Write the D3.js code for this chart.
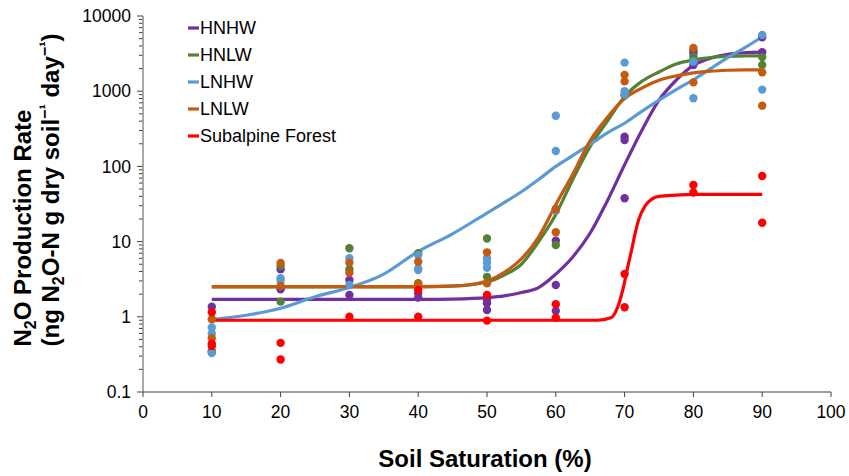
<!DOCTYPE html>
<html>
<head>
<meta charset="utf-8">
<script src="https://cdn.jsdelivr.net/npm/d3@7"></script>
<style>
  body { margin: 0; background: #fff; }
  svg { display: block; }
  text { font-family: "Liberation Sans", Arial, sans-serif; fill: #000; }
</style>
</head>
<body>
<svg id="chart" width="849" height="476"></svg>
<script>
// Series and legend
const seriesNames = ["HNHW", "HNLW", "LNHW", "LNLW", "Subalpine Forest"];
const seriesColors = ["#7030A0", "#548235", "#5B9BD5", "#C55A11", "#FF0000"];

// Axis ticks
const xTicks = [0, 10, 20, 30, 40, 50, 60, 70, 80, 90, 100];
const yTicks = [0.1, 1, 10, 100, 1000, 10000];
const yTickLabels = ["0.1", "1", "10", "100", "1000", "10000"];

// Fitted response curves (soil saturation %, N2O rate)
const fitX = [10, 15, 20, 25, 30, 35, 40, 45, 50, 52.5, 55, 57.5, 60, 62.5, 65, 67.5, 70, 72.5, 75, 77.5, 80, 82.5, 85, 87.5, 90];
const fitHNHW = [1.7, 1.7, 1.7, 1.7, 1.7, 1.7, 1.7, 1.72, 1.8, 1.9, 2.1, 2.45, 3.7, 6.3, 13, 35, 105, 300, 760, 1400, 2200, 2750, 3100, 3250, 3300];
const fitHNLW = [2.5, 2.5, 2.5, 2.5, 2.5, 2.5, 2.5, 2.55, 2.9, 3.6, 5.0, 10, 23, 68, 185, 400, 850, 1350, 1800, 2300, 2600, 2800, 2900, 2950, 2950];
const fitLNHW = [0.92, 1.05, 1.3, 1.85, 2.45, 3.7, 7.4, 12.7, 24, 33, 46, 67, 100, 140, 197, 280, 375, 540, 760, 1050, 1420, 2000, 2800, 3800, 5300];
const fitLNLW = [2.52, 2.52, 2.52, 2.52, 2.52, 2.52, 2.52, 2.57, 3.0, 3.9, 5.9, 11.5, 31, 80, 220, 450, 800, 1100, 1400, 1600, 1750, 1850, 1900, 1920, 1920];
const forestFitX = [10, 20, 30, 40, 50, 60, 66, 68, 69, 70, 70.5, 71, 71.5, 72, 73, 74, 75, 77.5, 80, 85, 90];
const forestFit = [0.9, 0.9, 0.9, 0.9, 0.9, 0.9, 0.9, 0.97, 1.35, 2.9, 4.8, 7.6, 12.5, 19, 30, 37, 40, 41.5, 42.5, 42.5, 42.5];

// Measured rates: [soil saturation %, N2O rate]
const obsHNHW = [[10, 1.36], [10, 0.34], [20, 4.3], [20, 2.32], [30, 3.09], [30, 1.95], [40, 2.05], [40, 1.8],
  [50, 1.7], [50, 1.51], [50, 1.23], [60, 10.3], [60, 2.65], [60, 1.2], [70, 248], [70, 224], [70, 37.7],
  [80, 3460], [80, 3200], [80, 2230], [90, 5210], [90, 3290]];
const obsHNLW = [[10, 0.35], [20, 4.74], [20, 1.59], [30, 8.15], [30, 4.28], [40, 7.0], [40, 2.79],
  [50, 11.0], [50, 3.4], [60, 27], [60, 9.0], [70, 880], [80, 2870], [80, 2600], [90, 2840], [90, 2230]];
const obsLNHW = [[10, 0.72], [10, 0.6], [10, 0.33], [20, 3.25], [20, 3.0], [30, 6.0], [30, 2.65],
  [40, 6.6], [40, 4.4], [40, 4.2], [50, 6.0], [50, 5.25], [50, 4.5], [60, 472], [60, 160], [60, 25.6],
  [70, 2400], [70, 1000], [70, 900], [80, 2470], [80, 805], [90, 5590], [90, 1050]];
const obsLNLW = [[10, 0.93], [10, 0.52], [20, 5.2], [20, 2.57], [30, 5.25], [30, 3.86], [40, 5.4], [40, 2.73],
  [50, 7.2], [50, 2.79], [60, 27], [60, 13.3], [70, 1650], [70, 1350], [80, 3750], [80, 1310], [90, 1780], [90, 642]];
const obsForest = [[10, 1.15], [10, 0.44], [10, 0.41], [20, 0.45], [20, 0.27], [30, 1.0], [40, 2.27], [40, 1.0],
  [50, 1.95], [50, 0.89], [60, 1.47], [60, 0.97], [70, 3.7], [70, 1.34], [80, 56.6], [80, 45], [90, 74.6], [90, 17.8]];

const fits = [
  fitX.map((x, i) => [x, fitHNHW[i]]),
  fitX.map((x, i) => [x, fitHNLW[i]]),
  fitX.map((x, i) => [x, fitLNHW[i]]),
  fitX.map((x, i) => [x, fitLNLW[i]]),
  forestFitX.map((x, i) => [x, forestFit[i]])
];
const observations = [obsHNHW, obsHNLW, obsLNHW, obsLNLW, obsForest];

const svg = d3.select("#chart");
const x = d3.scaleLinear().domain([0, 100]).range([143, 831]);
const y = d3.scaleLog().domain([0.1, 10000]).range([392, 16]);

// Y axis: decade ticks plus minor log ticks
const minor = [];
for (let d = 0.1; d < 10000; d *= 10) for (let k = 2; k <= 9; k++) minor.push(+(d * k).toPrecision(3));
const yAxis = svg.append("g");
yAxis.selectAll("line.minor").data(minor).join("line")
  .attr("x1", x(0) - 4).attr("x2", x(0))
  .attr("y1", d => y(d)).attr("y2", d => y(d))
  .attr("stroke", "#404040").attr("stroke-width", 1);
yAxis.selectAll("line.major").data(yTicks).join("line")
  .attr("x1", x(0) - 6).attr("x2", x(0))
  .attr("y1", d => y(d)).attr("y2", d => y(d))
  .attr("stroke", "#404040").attr("stroke-width", 1);
yAxis.selectAll("text").data(yTicks).join("text")
  .attr("x", 131).attr("y", d => y(d)).attr("dy", "0.35em")
  .attr("text-anchor", "end").attr("font-size", 17.5)
  .text((d, i) => yTickLabels[i]);
yAxis.append("line")
  .attr("x1", x(0)).attr("x2", x(0)).attr("y1", y(10000)).attr("y2", y(0.1))
  .attr("stroke", "#8c8c8c").attr("stroke-width", 1.5);

// X axis
const xAxis = svg.append("g");
xAxis.append("line")
  .attr("x1", x(0)).attr("x2", x(100)).attr("y1", y(0.1)).attr("y2", y(0.1))
  .attr("stroke", "#404040").attr("stroke-width", 1.2);
xAxis.selectAll("line.tick").data(xTicks).join("line")
  .attr("x1", d => x(d)).attr("x2", d => x(d))
  .attr("y1", y(0.1)).attr("y2", y(0.1) + 5)
  .attr("stroke", "#404040").attr("stroke-width", 1);
xAxis.selectAll("text").data(xTicks).join("text")
  .attr("x", d => x(d)).attr("y", 418)
  .attr("text-anchor", "middle").attr("font-size", 17.5)
  .text(d => d);

// Fitted curves
const line = d3.line().x(d => x(d[0])).y(d => y(d[1])).curve(d3.curveMonotoneX);
svg.append("g").selectAll("path").data(fits).join("path")
  .attr("d", line)
  .attr("fill", "none")
  .attr("stroke", (d, i) => seriesColors[i])
  .attr("stroke-width", 3.2)
  .attr("stroke-linejoin", "round");

// Measured points
observations.forEach((pts, i) => {
  svg.append("g").selectAll("circle").data(pts).join("circle")
    .attr("cx", d => x(d[0])).attr("cy", d => y(d[1])).attr("r", 4.2)
    .attr("fill", seriesColors[i]);
});

// Legend
const legend = svg.append("g");
seriesNames.forEach((name, i) => {
  const cy = 28 + i * 27;
  legend.append("line")
    .attr("x1", 188).attr("x2", 199).attr("y1", cy).attr("y2", cy)
    .attr("stroke", seriesColors[i]).attr("stroke-width", 3.2);
  legend.append("text")
    .attr("x", 200).attr("y", cy).attr("dy", "0.35em")
    .attr("font-size", 18).text(name);
});

// X axis title
svg.append("text")
  .attr("x", 485).attr("y", 467)
  .attr("text-anchor", "middle").attr("font-size", 24).attr("font-weight", "bold")
  .text("Soil Saturation (%)");

// Y axis title (two lines, rotated)
const t1 = svg.append("text")
  .attr("transform", "translate(31,228) rotate(-90)")
  .attr("text-anchor", "middle").attr("font-size", 24).attr("font-weight", "bold");
t1.append("tspan").text("N");
t1.append("tspan").attr("font-size", 16).attr("dy", 5).text("2");
t1.append("tspan").attr("dy", -5).text("O Production Rate");

const t2 = svg.append("text")
  .attr("transform", "translate(59,190) rotate(-90)")
  .attr("text-anchor", "middle").attr("font-size", 24).attr("font-weight", "bold");
t2.append("tspan").text("(ng N");
t2.append("tspan").attr("font-size", 16).attr("dy", 5).text("2");
t2.append("tspan").attr("dy", -5).text("O-N g dry soil");
t2.append("tspan").attr("font-size", 16).attr("dy", -9).text("\u2212\u00B9");
t2.append("tspan").attr("dy", 9).text(" day");
t2.append("tspan").attr("font-size", 16).attr("dy", -9).text("\u2212\u00B9");
t2.append("tspan").attr("dy", 9).text(")");
</script>
</body>
</html>
